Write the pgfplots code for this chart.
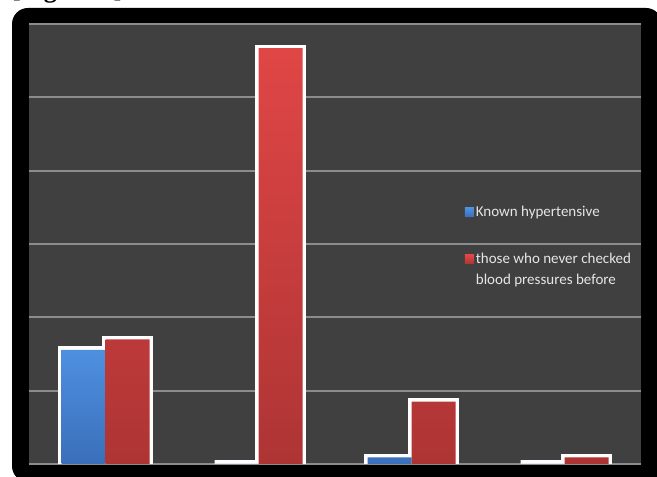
\documentclass[border=0pt]{standalone}
\usepackage{pgfplots}
\pgfplotsset{compat=1.18}
\usepackage{fontspec}
\setmainfont{Carlito}
\newfontfamily\capfont{Liberation Serif}
\definecolor{plotbg}{HTML}{404040}
\definecolor{gridc}{HTML}{8C8C8C}
\definecolor{bluetop}{HTML}{4E90E0}
\definecolor{bluebot}{HTML}{3A6FBA}
\definecolor{redtop}{HTML}{E04646}
\definecolor{redbot}{HTML}{AE3434}
\definecolor{legtext}{HTML}{E6E6E6}
\begin{document}
\begin{tikzpicture}[x=1pt,y=1pt]
\useasboundingbox (0,0) rectangle (657,477);
\node[anchor=base west, inner sep=0pt, font=\capfont\bfseries\fontsize{26}{30}\selectfont] at (12,479) {[Figure 1]};
\fill[black, rounded corners=16pt] (12,-5) rectangle (662,469);
\begin{axis}[
  at={(29pt,13pt)}, anchor=south west,
  scale only axis, width=612pt, height=440pt,
  xmin=-0.5, xmax=3.5, ymin=0, ymax=6,
  axis background/.style={fill=plotbg},
  axis line style={draw=none},
  ytick={0,1,2,3,4,5,6}, yticklabels={}, xtick=\empty,
  major tick length=0pt,
  ymajorgrids, grid style={gridc, line width=1.8pt},
  legend style={draw=none, fill=none, at={(0.707,0.595)}, anchor=north west,
    font=\fontsize{15}{21}\selectfont, text=legtext, row sep=31pt,
    cells={anchor=west, align=left}},
]
\addplot[ybar, bar width=44pt, bar shift=-22pt, fill=white, draw=white, line width=7pt, forget plot]
  coordinates {(0,1.555) (1,0) (2,0.09) (3,0)};
\addplot[ybar, bar width=44pt, bar shift=22pt, fill=white, draw=white, line width=7pt, forget plot]
  coordinates {(0,1.70) (1,5.67) (2,0.85) (3,0.09)};
\addplot[ybar, bar width=44pt, bar shift=-22pt, draw=none, top color=bluetop, bottom color=bluebot,
  legend image code/.code={\path[top color=bluetop, bottom color=bluebot] (0pt,-4.5pt) rectangle (9pt,4.5pt);}]
  coordinates {(0,1.555) (1,0) (2,0.09) (3,0)};
\addplot[ybar, bar width=44pt, bar shift=22pt, draw=none, top color=redtop, bottom color=redbot,
  legend image code/.code={\path[top color=redtop, bottom color=redbot] (0pt,6pt) rectangle (9pt,15pt);}]
  coordinates {(0,1.70) (1,5.67) (2,0.85) (3,0.09)};
\legend{Known hypertensive, {those who never checked\\blood pressures before}}
\end{axis}
\end{tikzpicture}
\end{document}
